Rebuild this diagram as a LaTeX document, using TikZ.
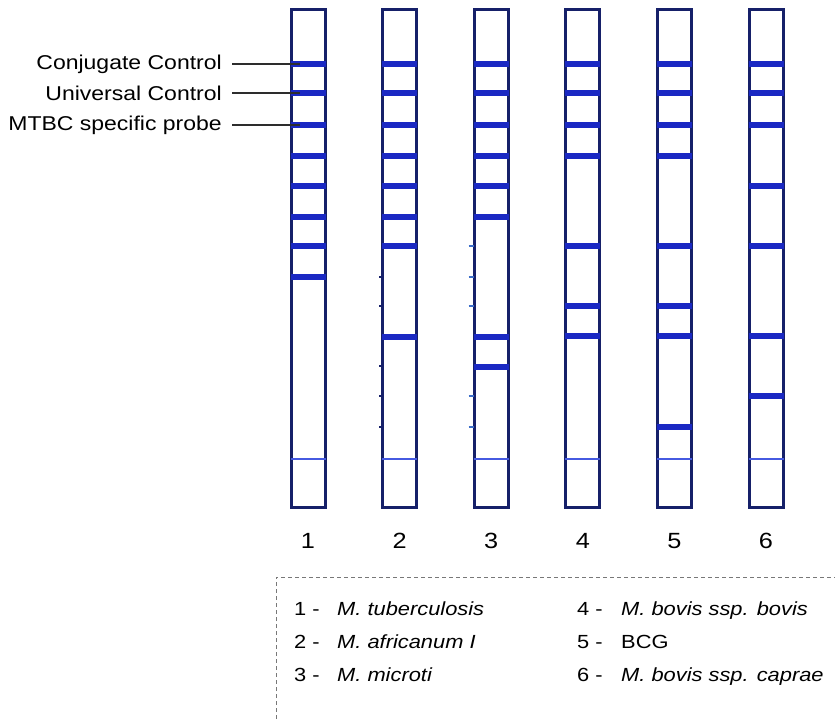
\documentclass[tikz,border=0pt]{standalone}
\usepackage{fontspec}
\setmainfont[FakeStretch=1.15]{Liberation Sans}
\definecolor{stripedge}{RGB}{22,32,105}
\definecolor{bandblue}{RGB}{26,40,195}
\definecolor{thinblue}{RGB}{70,90,225}
\definecolor{tickblue}{RGB}{60,110,200}
\definecolor{labelline}{RGB}{45,45,45}
\definecolor{boxgray}{RGB}{120,120,120}
\tikzset{
  strip/.style={draw=stripedge, line width=3pt, fill=white, minimum width=34pt, minimum height=497pt, inner sep=0pt},
  band/.style={bandblue, line width=5.8pt},
  thinband/.style={thinblue, line width=2pt},
  stripmark/.style={tickblue, line width=2pt},
  dotmark/.style={stripedge, line width=1.6pt},
  probelabel/.style={font=\fontsize{20}{22}\selectfont, anchor=east, inner sep=0pt},
  probeline/.style={labelline, line width=1.9pt},
  lanenum/.style={font=\fontsize{22}{24}\selectfont, inner sep=0pt},
  keynum/.style={font=\fontsize{19}{21}\selectfont, anchor=base west, inner sep=0pt},
  keyname/.style={font=\fontsize{19}{21}\selectfont\itshape, anchor=base west, inner sep=0pt},
  legendbox/.style={boxgray, line width=0.9pt, dash pattern=on 4pt off 3pt}
}
\begin{document}
\begin{tikzpicture}[x=1pt, y=-1pt]
\useasboundingbox (0,0) rectangle (835,719);

% six test strips
\foreach \i/\cx in {1/308, 2/399.6, 3/491.2, 4/582.8, 5/674.4, 6/766} {
  \node[strip] (s\i) at (\cx,258.5) {};
  \node[lanenum] (n\i) at (\cx,541) {\i};
}

% faint marks on the left edge of strips 2 and 3
\foreach \y in {277, 306, 366, 396, 427} {
  \draw[dotmark] ([xshift=-2pt]s2.west |- 0,\y) -- ([xshift=1pt]s2.west |- 0,\y);
}
\foreach \y in {246, 277, 306, 396, 427} {
  \draw[stripmark] ([xshift=-4pt]s3.west |- 0,\y) -- ([xshift=1pt]s3.west |- 0,\y);
}

% hybridisation bands of each strip
\foreach \s/\ylist in {
  1/{64,93,125,156,186,217,246,277},
  2/{64,93,125,156,186,217,246,337},
  3/{64,93,125,156,186,217,337,367},
  4/{64,93,125,156,246,306,336},
  5/{64,93,125,156,246,306,336,427},
  6/{64,93,125,186,246,336,396}} {
  \foreach \y in \ylist {
    \draw[band] ([xshift=1pt]s\s.west |- 0,\y) -- ([xshift=-1pt]s\s.east |- 0,\y);
  }
  \draw[thinband] ([xshift=1pt]s\s.west |- 0,459) -- ([xshift=-1pt]s\s.east |- 0,459);
}

% probe labels
\node[probelabel] (cc) at (222,64) {Conjugate Control};
\node[probelabel] (uc) at (222,93) {Universal Control};
\node[probelabel] (mp) at (222,125) {MTBC specific probe};
\foreach \l in {cc, uc, mp} {
  \draw[probeline] ([xshift=10pt]\l.east) -- ([xshift=10pt]\l.east -| s1.west);
}

% legend
\coordinate (boxbl) at (276,719);
\coordinate (boxtl) at (276,577);
\coordinate (boxtr) at (835,577);
\draw[legendbox] (boxbl) -- (boxtl) -- (boxtr);
\node[keynum] (k1) at (294,615) {1 -};
\node[keyname] (m1) at (337,615) {M. tuberculosis};
\node[keynum] (k2) at (294,648) {2 -};
\node[keyname] (m2) at (337,648) {M. africanum I};
\node[keynum] (k3) at (294,681) {3 -};
\node[keyname] (m3) at (337,681) {M. microti};
\node[keynum] (k4) at (577,615) {4 -};
\node[keyname] (m4) at (621,615) {M. bovis ssp. bovis};
\node[keynum] (k5) at (577,648) {5 -};
\node[keynum] (m5) at (621,648) {BCG};
\node[keynum] (k6) at (577,681) {6 -};
\node[keyname] (m6) at (621,681) {M. bovis ssp. caprae};
\end{tikzpicture}
\end{document}
